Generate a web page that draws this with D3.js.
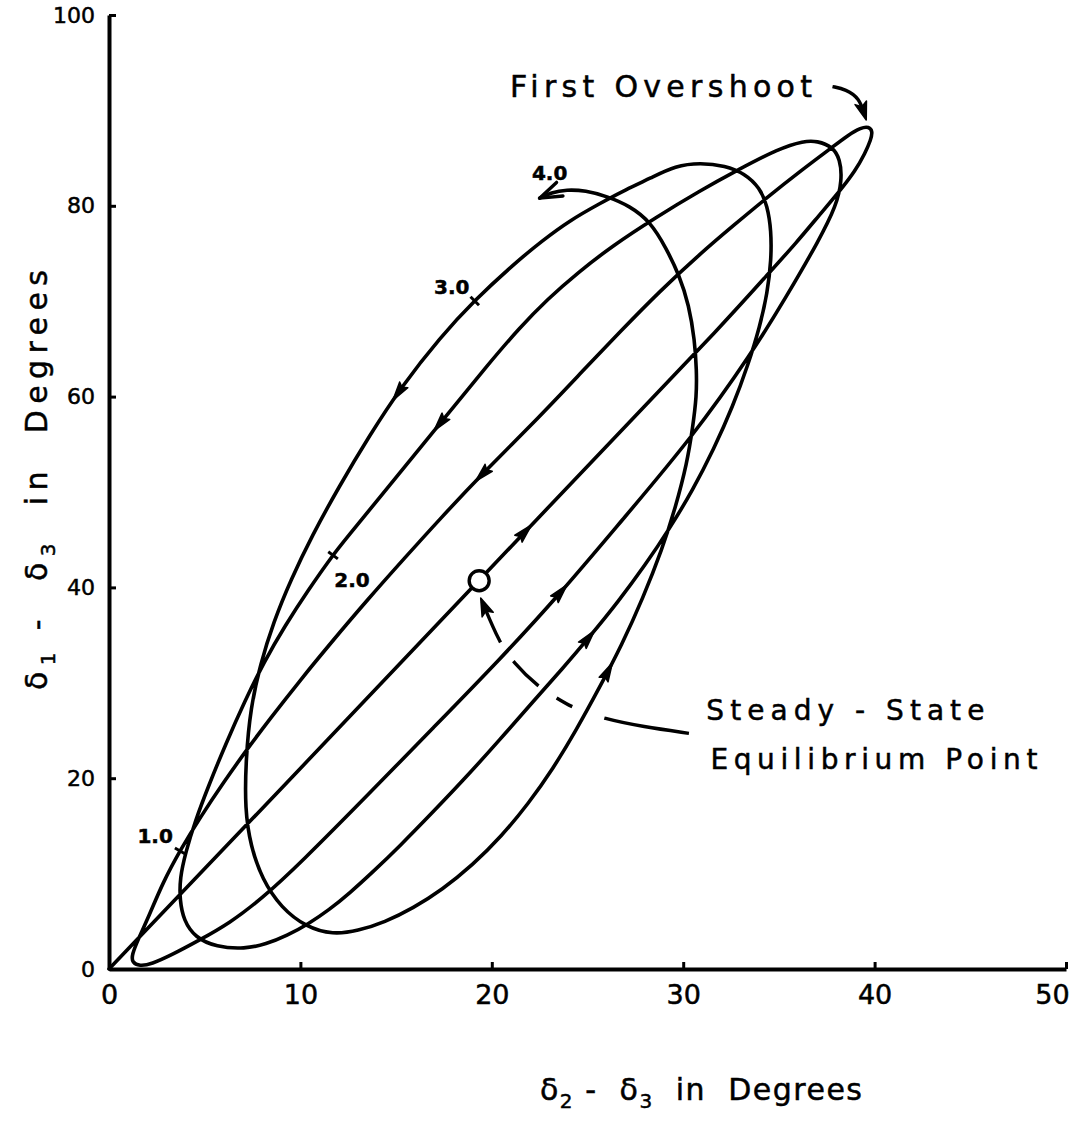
<!DOCTYPE html>
<html>
<head>
<meta charset="utf-8">
<script src="https://cdn.jsdelivr.net/npm/d3@7"></script>
<style>
  body { margin: 0; background: #fff; }
  svg { display: block; background: #fff; }
  text { font-family: 'DejaVu Sans', sans-serif; fill: #000; stroke: #000; stroke-width: 0.5px; }
</style>
</head>
<body>
<svg id="chart" width="1078" height="1122"></svg>
<script>
// swing trajectory: [delta2 - delta3, delta1 - delta3] in degrees, in time order
var swingUp1 = [[0, 0], [10, 21], [19.3, 40.7], [27.7, 58.4], [31.9, 67.2], [34.5, 73.0], [35.9, 76.1],
  [37.1, 79.0], [38.2, 81.6], [39.0, 83.7], [39.5, 85.5], [39.8, 86.9], [39.9, 87.8], [39.7, 88.3],
  [39.3, 88.2], [38.6, 87.4]];
var swingDown1 = [[37.7, 86.0], [36.1, 83.6], [34.4, 80.9], [32.6, 77.9], [30.9, 75.0], [28.8, 71.1],
  [26.7, 66.8], [24.8, 62.8], [22.5, 57.9], [19.5, 51.9], [17.3, 47.2], [15.5, 43.2], [13.5, 38.7],
  [11.6, 34.2], [10.0, 30.3], [8.4, 26.2], [7.2, 23.0], [6.0, 19.6], [4.8, 16.0], [3.7, 12.4],
  [2.8, 9.0], [2.1, 5.6], [1.5, 3.0], [1.2, 1.5], [1.2, 0.7], [1.6, 0.3]];
var swingUp2 = [[2.2, 0.5], [3.3, 1.5], [4.7, 3.0], [6.3, 4.8], [8.0, 7.4], [10.0, 11.1], [13.5, 18.2],
  [16.9, 25.2], [20.4, 32.4], [23.6, 39.4], [26.7, 46.8], [30.5, 55.8], [33.6, 64.6], [35.4, 70.5],
  [37.1, 76.4], [38.0, 80.0], [38.3, 82.7], [38.2, 84.9], [37.8, 86.2], [37.0, 86.8], [36.3, 86.8],
  [35.0, 86.0]];
var swingDown2 = [[32.8, 83.7], [30.9, 81.6], [28.5, 78.7], [26.3, 75.8], [24.5, 73.0], [22.9, 70.2],
  [21.4, 67.1], [19.9, 63.6], [17.3, 57.2], [14.7, 50.8], [12.3, 44.9], [11.7, 43.4], [10.4, 39.7],
  [9.2, 36.0], [8.1, 32.2], [7.1, 28.1], [6.1, 23.6], [5.2, 19.2], [4.5, 15.5], [4.0, 12.2],
  [3.7, 9.5], [3.7, 7.2], [3.9, 5.1], [4.5, 3.3], [5.6, 2.3], [7.1, 2.1], [8.2, 2.6], [9.3, 3.5],
  [10.4, 4.7], [11.5, 6.2]];
var swingUp3 = [[12.6, 8.0], [13.8, 10.2], [15.2, 12.9], [16.9, 16.4], [18.7, 20.2], [20.4, 24.0],
  [22.1, 27.9], [23.7, 31.5], [25.1, 34.8], [26.6, 38.5], [28.0, 42.3], [29.3, 46.2], [30.5, 50.2],
  [31.6, 54.5], [32.6, 59.0], [33.4, 63.4], [34.0, 67.3], [34.4, 70.9], [34.6, 74.3], [34.6, 77.4],
  [34.4, 80.0], [34.0, 81.9], [33.2, 83.4], [32.2, 84.2], [30.9, 84.5]];
var swingDown3 = [[29.6, 84.2], [28.3, 82.9], [27.0, 81.7], [25.6, 80.2], [24.1, 78.5], [22.6, 76.3],
  [21.1, 73.8], [19.1, 70.1], [17.3, 66.2], [15.3, 61.1], [13.6, 55.9], [12.0, 50.5], [10.6, 45.4],
  [9.5, 40.8], [8.6, 36.4], [7.9, 31.9], [7.4, 27.4], [7.15, 22.1], [7.1, 16.7], [7.4, 12.9],
  [8.0, 9.4], [9.0, 6.4], [10.3, 4.4], [11.7, 3.6]];
var swingUp4 = [[13.0, 4.0], [14.4, 4.9], [15.9, 6.4], [17.4, 8.3], [19.0, 10.9], [20.5, 13.9],
  [21.9, 17.3], [23.2, 21.0], [24.4, 25.0], [25.6, 29.4], [26.8, 34.0], [27.9, 38.9], [28.9, 44.0],
  [29.6, 48.4], [30.2, 53.0], [30.5, 56.8], [30.7, 60.0], [30.7, 62.8], [30.6, 65.9], [30.3, 69.6],
  [29.8, 72.7], [29.1, 75.6], [28.3, 78.3], [27.2, 80.0], [26.0, 81.0], [24.9, 81.6], [23.9, 81.7],
  [23.1, 81.4], [22.5, 80.8]];

var equilibrium = [19.34, 40.7];
var timeLabels = ['1.0', '2.0', '3.0'];
var timeMarks = [[3.7, 12.4], [11.7, 43.4], [19.1, 70.1]];
var endLabel = '4.0';
var flowArrows = [[15.1, 60.5], [17.3, 57.2], [19.5, 51.9], [21.8, 45.7], [23.6, 39.4], [25.1, 34.6], [26.0, 31.2]];
var overshootPointer = [[37.8, 92.5], [38.5, 92.2], [39.2, 91.3], [39.5, 89.4]];
var equilibriumPointer = [[30.3, 24.7], [27.9, 25.4], [25.9, 26.2], [24.2, 27.4], [23.4, 28.4],
  [22.4, 29.6], [21.1, 32.2], [20.4, 34.2], [19.5, 38.5]];

var xTicks = [0, 10, 20, 30, 40, 50];
var yTicks = [0, 20, 40, 60, 80, 100];

var svg = d3.select('#chart');
var width = +svg.attr('width');
var height = +svg.attr('height');
var margin = { top: 15, right: 12, bottom: 153, left: 109 };

var x = d3.scaleLinear().domain([0, 50]).range([margin.left, width - margin.right]);
var y = d3.scaleLinear().domain([0, 100]).range([height - margin.bottom, margin.top]);

// axes, ticks pointing inward like the hand-drawn original
var xAxis = svg.append('g')
  .attr('transform', `translate(0, ${y(0)})`)
  .call(d3.axisBottom(x).tickValues(xTicks).tickSizeInner(-7).tickSizeOuter(0).tickPadding(16));
xAxis.attr('font-family', null).attr('font-size', 27);
xAxis.selectAll('text').filter(d => d === 50).attr('dx', -14);

var yAxis = svg.append('g')
  .attr('transform', `translate(${x(0)}, 0)`)
  .call(d3.axisLeft(y).tickValues(yTicks).tickSizeInner(-7).tickSizeOuter(0).tickPadding(14));
yAxis.attr('font-family', null).attr('font-size', 22);

svg.selectAll('.domain').attr('stroke', '#000').attr('stroke-width', 4);
svg.selectAll('.tick line').attr('stroke', '#000').attr('stroke-width', 3);

// axis titles
var xTitle = svg.append('text')
  .attr('x', 701)
  .attr('y', 1100)
  .attr('text-anchor', 'middle')
  .attr('font-size', 30)
  .attr('textLength', 322)
  .attr('lengthAdjust', 'spacing');
xTitle.append('tspan').text('δ');
xTitle.append('tspan').attr('dy', 8).attr('font-size', 20).text('2');
xTitle.append('tspan').attr('dy', -8).text('\u00a0-\u00a0\u00a0δ');
xTitle.append('tspan').attr('dy', 8).attr('font-size', 20).text('3');
xTitle.append('tspan').attr('dy', -8).text('\u00a0\u00a0in\u00a0\u00a0Degrees');

var yTitle = svg.append('text')
  .attr('transform', 'translate(47, 480) rotate(-90)')
  .attr('text-anchor', 'middle')
  .attr('font-size', 30)
  .attr('textLength', 420)
  .attr('lengthAdjust', 'spacing');
yTitle.append('tspan').text('δ');
yTitle.append('tspan').attr('dy', 8).attr('font-size', 20).text('1');
yTitle.append('tspan').attr('dy', -8).text('\u00a0-\u00a0\u00a0δ');
yTitle.append('tspan').attr('dy', 8).attr('font-size', 20).text('3');
yTitle.append('tspan').attr('dy', -8).text('\u00a0\u00a0in\u00a0\u00a0Degrees');

// the trajectory
var line = d3.line()
  .x(d => x(d[0]))
  .y(d => y(d[1]))
  .curve(d3.curveBasis);

var trajectory = swingUp1.concat(swingDown1, swingUp2, swingDown2, swingUp3, swingDown3, swingUp4);

var trace = svg.append('path')
  .datum(trajectory)
  .attr('d', line)
  .attr('fill', 'none')
  .attr('stroke', '#000')
  .attr('stroke-width', 3.6)
  .attr('stroke-linejoin', 'round')
  .attr('stroke-linecap', 'round');

var traceNode = trace.node();
var traceLength = traceNode.getTotalLength();
var samples = d3.range(0, traceLength, 1).map(l => {
  var p = traceNode.getPointAtLength(l);
  return [p.x, p.y, l];
});

// snap a data point to the drawn trace and read the direction of travel there
function along(d) {
  var px = x(d[0]), py = y(d[1]);
  var best = d3.least(samples, s => (s[0] - px) * (s[0] - px) + (s[1] - py) * (s[1] - py));
  var a = traceNode.getPointAtLength(Math.max(best[2] - 4, 0));
  var b = traceNode.getPointAtLength(Math.min(best[2] + 4, traceLength));
  return { x: best[0], y: best[1], angle: Math.atan2(b.y - a.y, b.x - a.x) * 180 / Math.PI };
}

svg.selectAll('.flow')
  .data(flowArrows)
  .enter()
  .append('path')
  .attr('class', 'flow')
  .attr('d', 'M10,0L-9,-5L-6,0L-9,5Z')
  .attr('fill', '#000')
  .attr('stroke', '#000')
  .attr('stroke-width', 1.5)
  .attr('stroke-linejoin', 'round')
  .attr('transform', d => {
    var p = along(d);
    return `translate(${p.x},${p.y}) rotate(${p.angle})`;
  });

// time marks along the trace
var labelShift = [[-25, -8], [19, 32], [-23, -7]];
timeMarks.forEach((d, i) => {
  var p = along(d);
  svg.append('path')
    .attr('d', 'M0,-6V6')
    .attr('stroke', '#000')
    .attr('stroke-width', 3)
    .attr('transform', `translate(${p.x},${p.y}) rotate(${p.angle})`);
  svg.append('text')
    .attr('x', p.x + labelShift[i][0])
    .attr('y', p.y + labelShift[i][1])
    .attr('text-anchor', 'middle')
    .attr('font-size', 20)
    .attr('font-weight', 'bold')
    .text(timeLabels[i]);
});

// open arrow where the trace stops, at 4.0
var endA = traceNode.getPointAtLength(traceLength);
var endB = traceNode.getPointAtLength(traceLength - 8);
var endAngle = Math.atan2(endA.y - endB.y, endA.x - endB.x) * 180 / Math.PI;
svg.append('path')
  .attr('d', 'M-22,-8L0,0L-22,7')
  .attr('fill', 'none')
  .attr('stroke', '#000')
  .attr('stroke-width', 3.4)
  .attr('stroke-linecap', 'round')
  .attr('stroke-linejoin', 'round')
  .attr('transform', `translate(${endA.x},${endA.y}) rotate(${endAngle})`);
svg.append('text')
  .attr('x', endA.x + 10)
  .attr('y', endA.y - 18)
  .attr('text-anchor', 'middle')
  .attr('font-size', 20)
  .attr('font-weight', 'bold')
  .text(endLabel);

// steady-state equilibrium point
svg.append('circle')
  .attr('cx', x(equilibrium[0]))
  .attr('cy', y(equilibrium[1]))
  .attr('r', 10)
  .attr('fill', '#fff')
  .attr('stroke', '#000')
  .attr('stroke-width', 3.4);

// annotation pointers
function pointer(points, dash) {
  var path = svg.append('path')
    .datum(points)
    .attr('d', d3.line().x(d => x(d[0])).y(d => y(d[1])).curve(d3.curveBasis))
    .attr('fill', 'none')
    .attr('stroke', '#000')
    .attr('stroke-width', 3.4)
    .attr('stroke-dasharray', dash);
  var node = path.node();
  var len = node.getTotalLength();
  var a = node.getPointAtLength(len), b = node.getPointAtLength(len - 6);
  var angle = Math.atan2(a.y - b.y, a.x - b.x) * 180 / Math.PI;
  svg.append('path')
    .attr('d', 'M4,0L-14,-6L-10,0L-14,6Z')
    .attr('fill', '#000')
    .attr('stroke', '#000')
    .attr('stroke-width', 1.5)
    .attr('stroke-linejoin', 'round')
    .attr('transform', `translate(${a.x},${a.y}) rotate(${angle})`);
}

pointer(overshootPointer, null);
pointer(equilibriumPointer, '86 34 18 22 35 23 80');

svg.append('text')
  .attr('x', x(20.95))
  .attr('y', y(91.36))
  .attr('font-size', 30)
  .attr('textLength', 302)
  .attr('lengthAdjust', 'spacing')
  .text('First Overshoot');

svg.append('text')
  .attr('x', x(31.21))
  .attr('y', y(26.09))
  .attr('font-size', 28)
  .attr('textLength', 278)
  .attr('lengthAdjust', 'spacing')
  .text('Steady - State');

svg.append('text')
  .attr('x', x(31.42))
  .attr('y', y(20.95))
  .attr('font-size', 28)
  .attr('textLength', 327)
  .attr('lengthAdjust', 'spacing')
  .text('Equilibrium Point');
</script>
</body>
</html>
